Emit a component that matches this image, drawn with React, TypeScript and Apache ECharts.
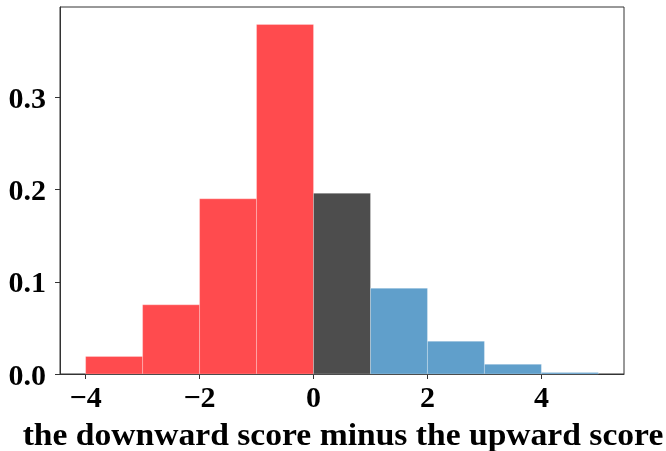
import React, { useEffect, useRef } from "react";
import * as echarts from "echarts";

const binStarts = [-4, -3, -2, -1, 0, 1, 2, 3, 4];
const binWidth = 1;
const densities = [0.019, 0.075, 0.19, 0.379, 0.196, 0.093, 0.0355, 0.0105, 0.0015];
const groups = ["neg", "neg", "neg", "neg", "zero", "pos", "pos", "pos", "pos"];
const xTicks = [-4, -2, 0, 2, 4];
const yTicks = [0, 0.1, 0.2, 0.3];
const xLabel = "the downward score minus the upward score";

const groupColors: Record<string, string> = {
  neg: "#ff4b4e",
  zero: "#4d4d4d",
  pos: "#609fcb",
};

const FONT = "'Liberation Serif', 'Times New Roman', serif";

export default function App() {
  const ref = useRef<HTMLDivElement>(null);
  useEffect(() => {
    if (!ref.current) return;
    const chart = echarts.init(ref.current, null, { renderer: "svg" });
    const data = binStarts.map((s, i) => [s, s + binWidth, densities[i], i]);
    chart.setOption({
      animation: false,
      grid: {
        left: 60,
        right: 42,
        top: 7,
        bottom: 77,
        show: true,
        borderColor: "#333",
        borderWidth: 1,
        backgroundColor: "transparent",
      },
      graphic: [
        {
          type: "text",
          x: 343,
          y: 434,
          scaleX: 1.05,
          style: {
            text: xLabel,
            fill: "#000",
            font: "bold 32px 'Liberation Serif', 'Times New Roman', serif",
            align: "center",
            verticalAlign: "middle",
          },
        },
      ],
      xAxis: {
        type: "value",
        min: -4.45,
        max: 5.45,
        splitLine: { show: false },
        axisLine: { show: true, onZero: false, lineStyle: { color: "#333", width: 1 } },
        axisTick: { show: true, length: 5, lineStyle: { color: "#333" }, customValues: xTicks },
        axisLabel: {
          customValues: xTicks,
          formatter: (v: number) => (v < 0 ? "\u2212" + Math.abs(v) : String(v)),
          color: "#000",
          fontFamily: FONT,
          fontWeight: "bold",
          fontSize: 30,
          margin: 7,
        },
      },
      yAxis: {
        type: "value",
        min: 0,
        max: 0.398,
        splitLine: { show: false },
        axisLine: { show: true, onZero: false, lineStyle: { color: "#333", width: 1 } },
        axisTick: { show: true, length: 5, lineStyle: { color: "#333" }, customValues: yTicks },
        axisLabel: {
          customValues: yTicks,
          formatter: (v: number) => v.toFixed(1),
          color: "#000",
          fontFamily: FONT,
          fontWeight: "bold",
          fontSize: 30,
          margin: 14,
        },
      },
      series: [
        {
          type: "custom",
          data,
          encode: { x: [0, 1], y: 2 },
          renderItem: (params: any, api: any) => {
            const x0 = api.value(0);
            const x1 = api.value(1);
            const y = api.value(2);
            const idx = api.value(3);
            const p0 = api.coord([x0, y]);
            const p1 = api.coord([x1, 0]);
            return {
              type: "rect",
              shape: { x: p0[0], y: p0[1], width: p1[0] - p0[0], height: p1[1] - p0[1] },
              style: {
                fill: groupColors[groups[idx]],
                stroke: "rgba(255,255,255,0.25)",
                lineWidth: 1,
              },
            };
          },
        },
      ],
    });
    return () => chart.dispose();
  }, []);
  return (
    <div
      ref={ref}
      style={{ position: "fixed", left: 0, top: 0, width: 666, height: 451 }}
    />
  );
}
